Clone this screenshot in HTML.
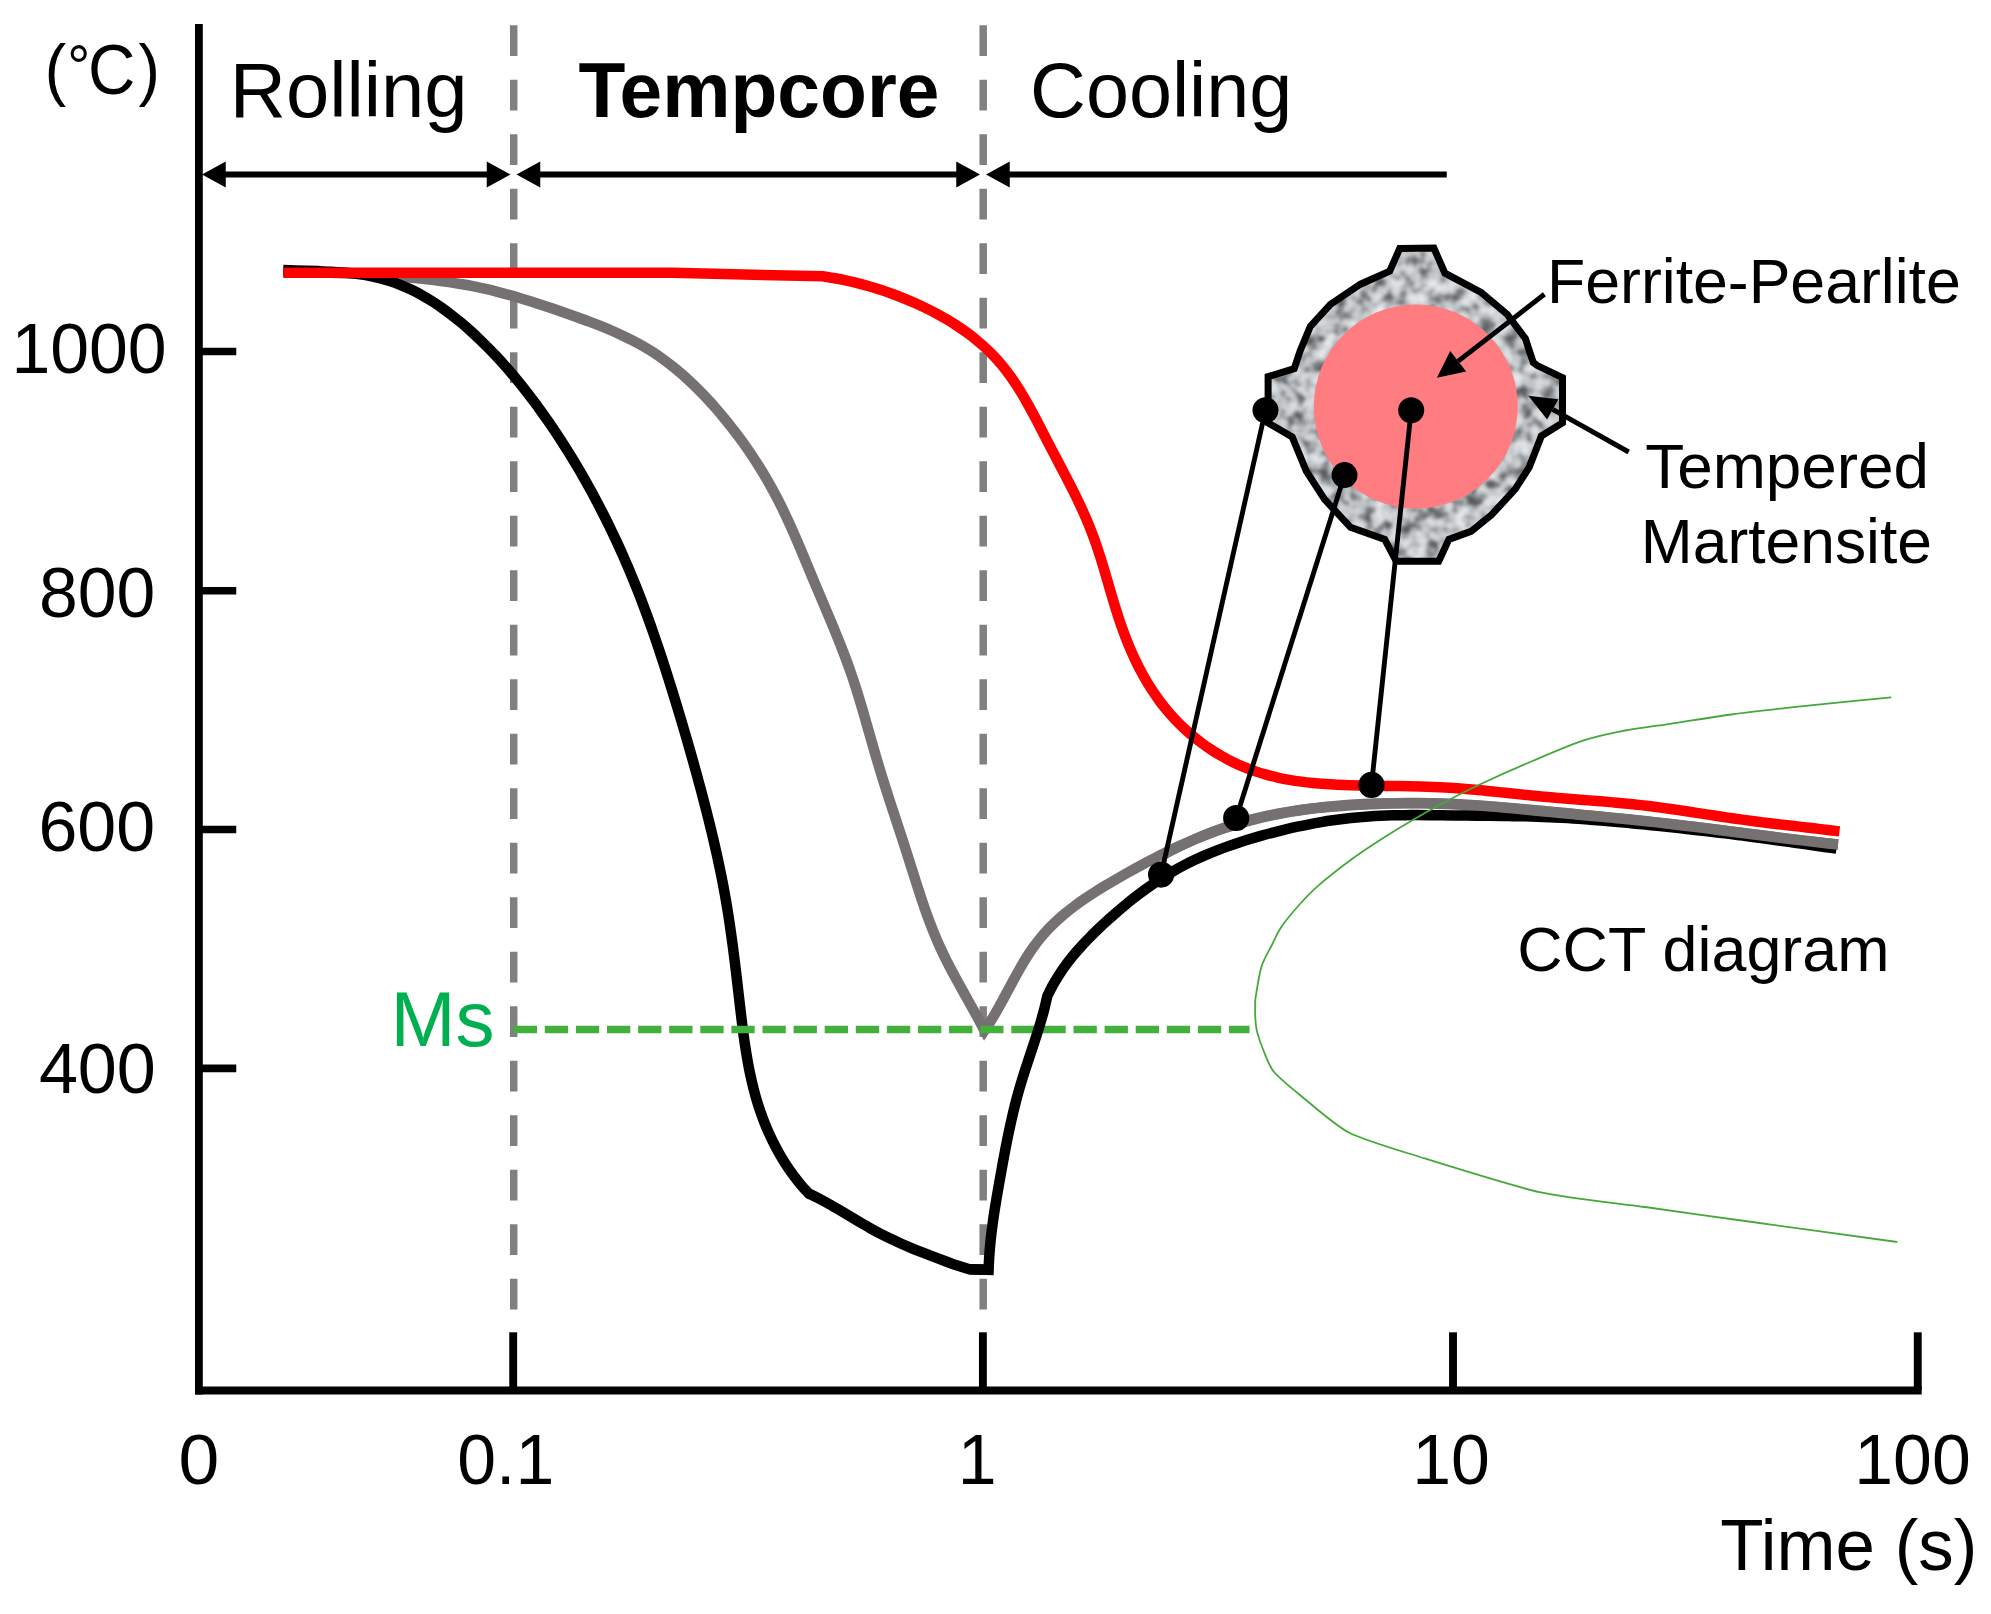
<!DOCTYPE html>
<html><head><meta charset="utf-8"><title>Tempcore cooling diagram</title>
<style>
html,body{margin:0;padding:0;background:#fff;}
body{width:1991px;height:1614px;overflow:hidden;}
svg{display:block;}
text{font-family:"Liberation Sans",sans-serif;fill:#000;}
.c{fill:none;stroke-linejoin:round;stroke-linecap:butt;}
</style></head><body>
<svg width="1991" height="1614" viewBox="0 0 1991 1614">
<defs>
<filter id="noise" x="0" y="0" width="100%" height="100%" color-interpolation-filters="sRGB">
<feTurbulence type="fractalNoise" baseFrequency="0.075" numOctaves="2" seed="11" result="n"/>
<feColorMatrix in="n" type="matrix" values="1 0 0 0 0  1 0 0 0 0  1 0 0 0 0  0 0 0 0 1" result="m"/>
<feComponentTransfer in="m" result="g"><feFuncR type="table" tableValues="0.240 0.320 0.410 0.570 0.750 0.830 0.890 0.930 0.960"/><feFuncG type="table" tableValues="0.252 0.332 0.422 0.582 0.762 0.842 0.902 0.942 0.972"/><feFuncB type="table" tableValues="0.260 0.340 0.430 0.590 0.770 0.850 0.910 0.950 0.980"/></feComponentTransfer>
<feGaussianBlur in="g" stdDeviation="1.0" result="gb"/>
<feComposite in="gb" in2="SourceGraphic" operator="in"/>
</filter>
</defs>
<rect width="1991" height="1614" fill="#fff"/>
<g id="curves">
<line x1="513.7" y1="25.2" x2="513.7" y2="1309.6" stroke="#808080" stroke-width="7.5" stroke-dasharray="30.9 23.6"/>
<line x1="983.2" y1="25.2" x2="983.2" y2="1309.6" stroke="#808080" stroke-width="7.5" stroke-dasharray="30.9 23.6"/>
<path class="c" id="grey" d="M283.25,272.00 C285.25,271.99 291.25,271.94 295.25,271.95 C299.24,271.97 303.24,272.01 307.23,272.07 C311.22,272.13 315.21,272.22 319.20,272.33 C323.19,272.44 327.18,272.58 331.17,272.73 C335.16,272.88 339.14,273.05 343.13,273.24 C347.11,273.42 351.10,273.63 355.08,273.85 C359.07,274.06 363.05,274.30 367.04,274.54 C371.03,274.78 375.01,275.04 379.00,275.30 C382.98,275.57 386.97,275.84 390.96,276.13 C394.94,276.42 398.93,276.72 402.91,277.05 C406.89,277.38 410.87,277.72 414.85,278.09 C418.83,278.47 422.80,278.86 426.77,279.29 C430.73,279.73 434.70,280.19 438.65,280.69 C442.61,281.20 446.56,281.74 450.50,282.33 C454.44,282.91 458.37,283.54 462.29,284.22 C466.22,284.91 470.13,285.64 474.03,286.43 C477.93,287.21 481.82,288.06 485.70,288.95 C489.59,289.85 493.46,290.80 497.32,291.79 C501.18,292.78 505.03,293.81 508.87,294.89 C512.72,295.96 516.55,297.08 520.38,298.22 C524.21,299.37 528.02,300.55 531.84,301.76 C535.65,302.97 539.46,304.21 543.26,305.46 C547.06,306.72 550.86,308.00 554.65,309.30 C558.44,310.59 562.22,311.91 566.01,313.23 C569.79,314.55 573.57,315.88 577.34,317.24 C581.10,318.60 584.87,319.96 588.61,321.37 C592.35,322.78 596.08,324.21 599.78,325.69 C603.48,327.17 607.17,328.68 610.82,330.26 C614.47,331.83 618.10,333.44 621.69,335.13 C625.28,336.82 628.84,338.55 632.36,340.37 C635.87,342.19 639.35,344.07 642.78,346.04 C646.20,348.02 649.59,350.06 652.92,352.21 C656.24,354.35 659.52,356.59 662.75,358.90 C665.97,361.22 669.14,363.63 672.26,366.10 C675.39,368.58 678.46,371.14 681.48,373.76 C684.50,376.37 687.48,379.07 690.40,381.81 C693.33,384.56 696.20,387.37 699.03,390.22 C701.86,393.08 704.64,395.99 707.38,398.94 C710.12,401.89 712.81,404.88 715.46,407.91 C718.10,410.93 720.70,414.00 723.26,417.08 C725.82,420.17 728.34,423.28 730.81,426.42 C733.28,429.56 735.71,432.72 738.09,435.92 C740.47,439.11 742.81,442.33 745.11,445.57 C747.40,448.82 749.65,452.09 751.86,455.39 C754.06,458.68 756.23,462.01 758.34,465.36 C760.46,468.72 762.53,472.10 764.56,475.51 C766.58,478.92 768.56,482.35 770.50,485.82 C772.43,489.28 774.32,492.77 776.17,496.29 C778.01,499.81 779.81,503.36 781.57,506.94 C783.33,510.51 785.05,514.11 786.74,517.72 C788.43,521.34 790.08,524.98 791.71,528.63 C793.34,532.28 794.94,535.94 796.53,539.62 C798.12,543.29 799.68,546.98 801.24,550.68 C802.80,554.37 804.34,558.07 805.88,561.77 C807.42,565.47 808.95,569.17 810.48,572.87 C812.02,576.57 813.56,580.27 815.10,583.96 C816.65,587.64 818.21,591.33 819.76,595.00 C821.32,598.68 822.88,602.35 824.44,606.03 C825.99,609.70 827.55,613.37 829.09,617.04 C830.63,620.71 832.17,624.39 833.69,628.07 C835.21,631.75 836.72,635.43 838.20,639.12 C839.68,642.81 841.15,646.51 842.58,650.22 C844.01,653.93 845.43,657.65 846.80,661.38 C848.17,665.12 849.52,668.86 850.82,672.63 C852.13,676.39 853.39,680.17 854.62,683.97 C855.86,687.76 857.05,691.57 858.23,695.39 C859.41,699.21 860.56,703.04 861.70,706.87 C862.84,710.71 863.95,714.55 865.06,718.40 C866.17,722.24 867.26,726.09 868.36,729.94 C869.46,733.79 870.55,737.65 871.65,741.50 C872.75,745.34 873.85,749.19 874.96,753.03 C876.08,756.87 877.21,760.71 878.35,764.53 C879.50,768.36 880.66,772.18 881.84,775.99 C883.02,779.80 884.22,783.60 885.43,787.40 C886.63,791.19 887.86,794.98 889.08,798.77 C890.31,802.56 891.55,806.35 892.79,810.14 C894.02,813.92 895.27,817.70 896.52,821.49 C897.76,825.28 899.01,829.06 900.25,832.85 C901.49,836.64 902.73,840.43 903.96,844.23 C905.19,848.02 906.42,851.82 907.64,855.63 C908.85,859.44 910.05,863.26 911.26,867.07 C912.47,870.89 913.66,874.71 914.88,878.53 C916.09,882.34 917.30,886.16 918.54,889.97 C919.78,893.77 921.03,897.58 922.31,901.37 C923.59,905.16 924.89,908.94 926.24,912.70 C927.58,916.46 928.95,920.22 930.38,923.94 C931.81,927.67 933.27,931.38 934.79,935.06 C936.32,938.74 937.89,942.40 939.53,946.03 C941.17,949.66 942.88,953.26 944.63,956.83 C946.38,960.41 948.20,963.96 950.04,967.50 C951.88,971.04 953.77,974.55 955.67,978.06 C957.57,981.57 959.51,985.06 961.45,988.55 C963.39,992.04 965.35,995.52 967.30,999.00 C969.25,1002.48 971.21,1005.96 973.14,1009.45 C975.08,1012.94 977.01,1016.43 978.90,1019.94 C980.80,1023.45 983.57,1028.74 984.50,1030.50 L984.50,1030.50 C985.56,1028.88 988.81,1024.11 990.88,1020.80 C992.96,1017.49 994.95,1014.07 996.92,1010.63 C998.90,1007.18 1000.82,1003.65 1002.75,1000.12 C1004.67,996.58 1006.56,992.99 1008.48,989.42 C1010.40,985.85 1012.30,982.24 1014.25,978.68 C1016.20,975.12 1018.15,971.55 1020.18,968.04 C1022.20,964.54 1024.26,961.05 1026.40,957.66 C1028.54,954.26 1030.73,950.91 1033.04,947.67 C1035.34,944.42 1037.72,941.26 1040.22,938.21 C1042.71,935.17 1045.32,932.23 1048.01,929.38 C1050.70,926.54 1053.50,923.79 1056.37,921.13 C1059.23,918.46 1062.19,915.89 1065.22,913.39 C1068.24,910.88 1071.34,908.46 1074.49,906.10 C1077.64,903.73 1080.87,901.44 1084.13,899.20 C1087.39,896.95 1090.71,894.77 1094.06,892.62 C1097.41,890.47 1100.81,888.38 1104.22,886.30 C1107.64,884.23 1111.09,882.20 1114.55,880.19 C1118.00,878.17 1121.48,876.18 1124.96,874.21 C1128.45,872.24 1131.94,870.28 1135.44,868.35 C1138.95,866.42 1142.46,864.50 1145.99,862.62 C1149.52,860.75 1153.06,858.89 1156.62,857.07 C1160.17,855.25 1163.74,853.46 1167.32,851.71 C1170.90,849.96 1174.50,848.25 1178.11,846.58 C1181.72,844.91 1185.35,843.28 1188.99,841.69 C1192.63,840.11 1196.29,838.57 1199.97,837.09 C1203.65,835.60 1207.35,834.16 1211.06,832.78 C1214.78,831.41 1218.51,830.08 1222.26,828.81 C1226.02,827.55 1229.79,826.33 1233.57,825.18 C1237.36,824.02 1241.16,822.92 1244.98,821.86 C1248.80,820.81 1252.64,819.81 1256.48,818.86 C1260.33,817.91 1264.19,817.01 1268.07,816.16 C1271.94,815.31 1275.83,814.51 1279.73,813.75 C1283.62,813.00 1287.53,812.29 1291.45,811.63 C1295.36,810.96 1299.29,810.34 1303.22,809.77 C1307.16,809.19 1311.10,808.66 1315.05,808.16 C1318.99,807.67 1322.95,807.22 1326.91,806.81 C1330.87,806.40 1334.83,806.03 1338.80,805.69 C1342.77,805.35 1346.74,805.06 1350.72,804.79 C1354.69,804.53 1358.67,804.30 1362.65,804.10 C1366.64,803.90 1370.62,803.74 1374.61,803.61 C1378.59,803.48 1382.58,803.37 1386.56,803.30 C1390.55,803.22 1394.54,803.18 1398.53,803.16 C1402.51,803.14 1406.50,803.15 1410.48,803.18 C1414.47,803.21 1418.45,803.27 1422.43,803.34 C1426.41,803.42 1430.39,803.52 1434.36,803.64 C1438.34,803.76 1442.31,803.90 1446.28,804.06 C1450.25,804.22 1454.22,804.40 1458.19,804.59 C1462.16,804.79 1466.12,805.01 1470.09,805.23 C1474.06,805.46 1478.02,805.71 1481.98,805.97 C1485.95,806.23 1489.91,806.50 1493.87,806.79 C1497.83,807.08 1501.79,807.38 1505.76,807.69 C1509.72,808.00 1513.68,808.33 1517.64,808.66 C1521.60,808.99 1525.56,809.33 1529.52,809.68 C1533.49,810.04 1537.45,810.40 1541.41,810.76 C1545.37,811.13 1549.33,811.50 1553.30,811.88 C1557.26,812.26 1561.22,812.65 1565.18,813.05 C1569.15,813.44 1573.11,813.84 1577.07,814.24 C1581.03,814.64 1585.00,815.05 1588.96,815.46 C1592.92,815.87 1596.88,816.29 1600.84,816.70 C1604.80,817.12 1608.76,817.54 1612.72,817.96 C1616.68,818.38 1620.64,818.81 1624.60,819.23 C1628.56,819.65 1632.52,820.08 1636.47,820.50 C1640.43,820.93 1644.39,821.35 1648.34,821.78 C1652.30,822.20 1656.25,822.63 1660.21,823.06 C1664.16,823.49 1668.12,823.93 1672.07,824.37 C1676.02,824.80 1679.97,825.24 1683.93,825.69 C1687.88,826.14 1691.83,826.59 1695.78,827.05 C1699.73,827.50 1703.68,827.96 1707.63,828.43 C1711.58,828.90 1715.53,829.38 1719.48,829.86 C1723.43,830.35 1727.38,830.84 1731.32,831.34 C1735.27,831.84 1739.22,832.35 1743.17,832.87 C1747.12,833.38 1751.06,833.91 1755.01,834.43 C1758.96,834.96 1762.91,835.49 1766.85,836.01 C1770.80,836.54 1774.75,837.06 1778.70,837.58 C1782.65,838.10 1786.60,838.62 1790.55,839.12 C1794.50,839.62 1798.45,840.12 1802.40,840.60 C1806.35,841.08 1810.30,841.56 1814.26,842.01 C1818.21,842.46 1822.17,842.90 1826.12,843.32 C1830.08,843.73 1836.02,844.30 1838.00,844.50" stroke="#767171" stroke-width="10.5" style="stroke-linejoin:miter;stroke-miterlimit:10"/>
<path class="c" id="black_dn" d="M283.25,270.10 C285.22,270.16 291.10,270.36 295.06,270.48 C299.02,270.59 303.01,270.67 307.00,270.78 C311.00,270.89 315.01,270.98 319.02,271.12 C323.03,271.27 327.05,271.42 331.06,271.64 C335.07,271.86 339.08,272.11 343.07,272.44 C347.06,272.78 351.04,273.17 354.99,273.66 C358.94,274.16 362.88,274.72 366.78,275.41 C370.67,276.11 374.55,276.89 378.37,277.82 C382.19,278.75 385.98,279.81 389.72,281.01 C393.45,282.21 397.14,283.56 400.78,285.03 C404.43,286.49 408.02,288.10 411.57,289.82 C415.12,291.53 418.62,293.38 422.07,295.31 C425.52,297.25 428.93,299.30 432.29,301.44 C435.65,303.57 438.96,305.81 442.22,308.12 C445.49,310.42 448.71,312.82 451.88,315.28 C455.05,317.73 458.18,320.27 461.25,322.85 C464.33,325.43 467.36,328.07 470.35,330.75 C473.33,333.43 476.27,336.16 479.17,338.93 C482.06,341.69 484.91,344.49 487.71,347.32 C490.52,350.16 493.28,353.03 496.00,355.93 C498.72,358.83 501.40,361.77 504.05,364.74 C506.69,367.70 509.29,370.70 511.86,373.73 C514.43,376.76 516.96,379.82 519.46,382.90 C521.97,385.98 524.43,389.09 526.87,392.23 C529.30,395.36 531.71,398.53 534.08,401.71 C536.46,404.89 538.80,408.10 541.13,411.32 C543.45,414.55 545.74,417.80 548.01,421.07 C550.28,424.33 552.52,427.62 554.74,430.93 C556.95,434.23 559.14,437.56 561.31,440.90 C563.48,444.24 565.61,447.61 567.73,450.98 C569.84,454.36 571.93,457.76 573.99,461.17 C576.05,464.58 578.09,468.01 580.10,471.45 C582.11,474.90 584.10,478.36 586.06,481.83 C588.02,485.31 589.95,488.80 591.86,492.30 C593.77,495.80 595.65,499.32 597.51,502.85 C599.36,506.38 601.19,509.92 603.00,513.48 C604.81,517.03 606.59,520.60 608.34,524.18 C610.10,527.76 611.83,531.35 613.54,534.96 C615.24,538.56 616.92,542.18 618.58,545.80 C620.24,549.43 621.87,553.06 623.48,556.71 C625.09,560.36 626.68,564.01 628.24,567.68 C629.80,571.35 631.34,575.03 632.85,578.71 C634.37,582.40 635.86,586.09 637.33,589.80 C638.80,593.50 640.24,597.21 641.66,600.93 C643.09,604.65 644.49,608.38 645.87,612.12 C647.25,615.85 648.60,619.60 649.95,623.35 C651.29,627.10 652.61,630.85 653.91,634.62 C655.22,638.38 656.51,642.15 657.78,645.92 C659.05,649.69 660.31,653.47 661.55,657.26 C662.80,661.04 664.03,664.83 665.25,668.62 C666.47,672.42 667.67,676.21 668.87,680.01 C670.07,683.81 671.25,687.62 672.43,691.42 C673.61,695.23 674.78,699.04 675.95,702.85 C677.11,706.66 678.27,710.48 679.41,714.29 C680.56,718.11 681.70,721.93 682.83,725.75 C683.96,729.57 685.08,733.39 686.20,737.22 C687.31,741.05 688.42,744.88 689.51,748.71 C690.61,752.54 691.69,756.38 692.77,760.21 C693.85,764.05 694.92,767.89 695.97,771.73 C697.03,775.58 698.08,779.42 699.12,783.27 C700.16,787.12 701.19,790.97 702.20,794.83 C703.22,798.68 704.23,802.54 705.22,806.40 C706.22,810.26 707.20,814.13 708.17,817.99 C709.14,821.86 710.10,825.73 711.03,829.61 C711.97,833.48 712.90,837.36 713.80,841.24 C714.71,845.12 715.59,849.00 716.46,852.89 C717.33,856.78 718.18,860.67 719.00,864.57 C719.83,868.47 720.64,872.36 721.42,876.27 C722.20,880.17 722.96,884.08 723.69,887.99 C724.42,891.90 725.13,895.82 725.81,899.74 C726.49,903.66 727.14,907.59 727.77,911.52 C728.40,915.44 729.00,919.38 729.59,923.31 C730.18,927.25 730.74,931.19 731.29,935.13 C731.85,939.08 732.38,943.02 732.90,946.97 C733.42,950.92 733.92,954.87 734.41,958.83 C734.91,962.78 735.39,966.74 735.87,970.70 C736.35,974.66 736.81,978.63 737.28,982.59 C737.74,986.56 738.20,990.52 738.66,994.49 C739.12,998.46 739.58,1002.43 740.04,1006.40 C740.50,1010.37 740.96,1014.35 741.45,1018.32 C741.93,1022.29 742.42,1026.25 742.94,1030.22 C743.46,1034.18 744.00,1038.14 744.57,1042.09 C745.15,1046.04 745.75,1049.98 746.40,1053.91 C747.05,1057.84 747.74,1061.76 748.48,1065.67 C749.23,1069.58 750.02,1073.48 750.87,1077.35 C751.73,1081.23 752.64,1085.10 753.63,1088.94 C754.61,1092.79 755.66,1096.62 756.80,1100.42 C757.94,1104.23 759.15,1108.01 760.45,1111.77 C761.75,1115.53 763.13,1119.26 764.59,1122.96 C766.06,1126.66 767.61,1130.33 769.25,1133.95 C770.90,1137.57 772.62,1141.16 774.44,1144.70 C776.26,1148.24 778.16,1151.74 780.16,1155.18 C782.16,1158.61 784.25,1162.01 786.44,1165.33 C788.63,1168.66 790.90,1171.93 793.28,1175.13 C795.66,1178.33 798.13,1181.47 800.70,1184.53 C803.27,1187.59 807.37,1192.01 808.70,1193.50 L808.70,1193.50 C810.44,1194.36 815.72,1196.88 819.17,1198.67 C822.62,1200.46 826.02,1202.33 829.41,1204.23 C832.80,1206.13 836.15,1208.10 839.50,1210.07 C842.84,1212.03 846.17,1214.04 849.50,1216.03 C852.83,1218.02 856.15,1220.03 859.50,1222.00 C862.84,1223.96 866.18,1225.93 869.56,1227.83 C872.94,1229.73 876.34,1231.60 879.77,1233.40 C883.21,1235.19 886.68,1236.92 890.18,1238.59 C893.68,1240.27 897.22,1241.88 900.77,1243.45 C904.32,1245.03 907.90,1246.54 911.49,1248.03 C915.08,1249.53 918.70,1250.97 922.32,1252.40 C925.94,1253.83 929.57,1255.22 933.20,1256.61 C936.83,1257.99 940.48,1259.35 944.11,1260.72 C947.74,1262.09 953.19,1264.12 955.00,1264.80 L969.3,1269.2 L988.6,1269.8" stroke="#000" stroke-width="10.5"/>
<line x1="513.7" y1="1029.5" x2="1249.5" y2="1029.5" stroke="#43b03b" stroke-width="7.7" stroke-dasharray="23.3 7.8"/>
<path class="c" id="black_up" d="M969.3,1269.2 L988.6,1269.8 L988.60,1269.80 C988.69,1267.76 988.91,1261.64 989.17,1257.57 C989.42,1253.50 989.75,1249.45 990.12,1245.40 C990.50,1241.35 990.94,1237.31 991.41,1233.27 C991.89,1229.24 992.42,1225.21 992.98,1221.19 C993.54,1217.16 994.15,1213.15 994.78,1209.13 C995.41,1205.12 996.07,1201.11 996.75,1197.10 C997.42,1193.09 998.12,1189.08 998.83,1185.07 C999.53,1181.07 1000.25,1177.06 1000.97,1173.05 C1001.69,1169.05 1002.41,1165.04 1003.16,1161.04 C1003.90,1157.03 1004.64,1153.03 1005.41,1149.03 C1006.19,1145.03 1006.97,1141.04 1007.78,1137.05 C1008.60,1133.06 1009.43,1129.08 1010.30,1125.11 C1011.17,1121.13 1012.07,1117.17 1013.01,1113.21 C1013.95,1109.26 1014.92,1105.31 1015.94,1101.38 C1016.96,1097.44 1018.02,1093.52 1019.13,1089.61 C1020.24,1085.71 1021.41,1081.81 1022.61,1077.93 C1023.81,1074.05 1025.07,1070.18 1026.33,1066.32 C1027.59,1062.45 1028.89,1058.60 1030.18,1054.74 C1031.46,1050.87 1032.76,1047.02 1034.03,1043.16 C1035.30,1039.29 1036.57,1035.43 1037.78,1031.54 C1039.00,1027.66 1040.19,1023.78 1041.32,1019.87 C1042.44,1015.96 1043.53,1012.04 1044.53,1008.10 C1045.53,1004.15 1046.84,998.18 1047.30,996.20 L1047.30,996.20 C1048.21,994.39 1050.80,988.90 1052.74,985.37 C1054.67,981.84 1056.75,978.40 1058.91,975.04 C1061.08,971.67 1063.37,968.38 1065.74,965.16 C1068.10,961.94 1070.58,958.79 1073.12,955.70 C1075.66,952.61 1078.30,949.59 1080.99,946.62 C1083.68,943.65 1086.45,940.73 1089.25,937.86 C1092.06,934.99 1094.93,932.18 1097.82,929.40 C1100.72,926.62 1103.66,923.88 1106.62,921.18 C1109.58,918.48 1112.57,915.81 1115.58,913.18 C1118.60,910.55 1121.64,907.96 1124.71,905.42 C1127.78,902.88 1130.88,900.38 1134.02,897.93 C1137.15,895.48 1140.32,893.08 1143.52,890.73 C1146.73,888.38 1149.96,886.09 1153.24,883.85 C1156.51,881.62 1159.83,879.44 1163.18,877.32 C1166.53,875.21 1169.92,873.15 1173.36,871.17 C1176.80,869.18 1180.27,867.27 1183.79,865.42 C1187.32,863.57 1190.88,861.80 1194.48,860.08 C1198.09,858.37 1201.73,856.73 1205.40,855.14 C1209.08,853.55 1212.79,852.03 1216.52,850.57 C1220.26,849.10 1224.03,847.69 1227.81,846.33 C1231.60,844.97 1235.41,843.67 1239.24,842.41 C1243.07,841.16 1246.92,839.95 1250.78,838.79 C1254.64,837.62 1258.51,836.50 1262.40,835.42 C1266.28,834.34 1270.17,833.30 1274.06,832.30 C1277.95,831.29 1281.85,830.32 1285.76,829.40 C1289.66,828.47 1293.57,827.58 1297.49,826.74 C1301.40,825.89 1305.32,825.09 1309.25,824.33 C1313.18,823.57 1317.11,822.85 1321.05,822.18 C1324.99,821.51 1328.93,820.88 1332.88,820.31 C1336.84,819.73 1340.80,819.20 1344.76,818.72 C1348.73,818.24 1352.70,817.81 1356.68,817.44 C1360.66,817.06 1364.65,816.74 1368.64,816.46 C1372.64,816.19 1376.64,815.97 1380.64,815.79 C1384.65,815.60 1388.66,815.47 1392.68,815.37 C1396.70,815.26 1400.72,815.20 1404.74,815.15 C1408.77,815.11 1412.79,815.10 1416.82,815.10 C1420.85,815.10 1424.88,815.13 1428.91,815.16 C1432.94,815.20 1436.97,815.25 1441.00,815.30 C1445.02,815.35 1449.05,815.41 1453.08,815.46 C1457.10,815.51 1461.12,815.56 1465.14,815.60 C1469.16,815.65 1473.18,815.68 1477.19,815.72 C1481.21,815.76 1485.22,815.79 1489.23,815.83 C1493.24,815.87 1497.25,815.91 1501.25,815.96 C1505.26,816.01 1509.26,816.06 1513.27,816.13 C1517.27,816.20 1521.27,816.28 1525.28,816.37 C1529.28,816.46 1533.28,816.57 1537.29,816.70 C1541.29,816.83 1545.29,816.97 1549.29,817.14 C1553.30,817.31 1557.30,817.50 1561.31,817.71 C1565.31,817.93 1569.32,818.17 1573.32,818.42 C1577.33,818.68 1581.33,818.96 1585.34,819.25 C1589.35,819.54 1593.35,819.86 1597.36,820.18 C1601.36,820.51 1605.37,820.85 1609.37,821.20 C1613.38,821.55 1617.38,821.92 1621.38,822.29 C1625.38,822.67 1629.39,823.05 1633.39,823.44 C1637.39,823.83 1641.38,824.23 1645.38,824.63 C1649.38,825.03 1653.37,825.44 1657.37,825.85 C1661.36,826.26 1665.35,826.67 1669.34,827.09 C1673.33,827.51 1677.32,827.94 1681.31,828.37 C1685.30,828.80 1689.28,829.24 1693.27,829.68 C1697.25,830.12 1701.24,830.57 1705.22,831.03 C1709.20,831.49 1713.19,831.96 1717.17,832.43 C1721.15,832.91 1725.13,833.39 1729.11,833.88 C1733.10,834.37 1737.08,834.87 1741.06,835.38 C1745.04,835.89 1749.02,836.42 1753.00,836.95 C1756.98,837.47 1760.96,838.01 1764.94,838.56 C1768.92,839.10 1772.90,839.65 1776.88,840.21 C1780.85,840.76 1784.83,841.32 1788.81,841.88 C1792.79,842.44 1796.76,843.01 1800.74,843.57 C1804.72,844.13 1808.69,844.70 1812.67,845.26 C1816.64,845.82 1820.61,846.38 1824.59,846.94 C1828.56,847.50 1834.51,848.32 1836.50,848.60" stroke="#000" stroke-width="10.5" style="stroke-linejoin:miter;stroke-miterlimit:10"/>
<path class="c" id="grey_top" d="M1162.50,855.00 C1164.28,854.08 1169.59,851.29 1173.18,849.50 C1176.76,847.71 1180.38,845.95 1184.01,844.25 C1187.65,842.55 1191.31,840.89 1194.99,839.28 C1198.67,837.67 1202.38,836.11 1206.11,834.61 C1209.83,833.11 1213.58,831.65 1217.35,830.26 C1221.12,828.87 1224.90,827.54 1228.71,826.27 C1232.51,825.00 1236.34,823.78 1240.18,822.64 C1244.02,821.50 1247.88,820.42 1251.75,819.41 C1255.62,818.40 1259.51,817.47 1263.41,816.59 C1267.31,815.72 1271.22,814.92 1275.15,814.16 C1279.07,813.41 1283.01,812.73 1286.96,812.09 C1290.91,811.44 1294.86,810.86 1298.83,810.32 C1302.80,809.78 1306.77,809.29 1310.75,808.83 C1314.73,808.37 1318.72,807.96 1322.72,807.58 C1326.71,807.19 1330.71,806.85 1334.71,806.52 C1338.72,806.20 1342.72,805.90 1346.73,805.63 C1350.74,805.35 1354.75,805.10 1358.76,804.86 C1362.77,804.62 1366.78,804.41 1370.80,804.21 C1374.81,804.02 1378.82,803.84 1382.84,803.69 C1386.85,803.55 1390.87,803.42 1394.88,803.32 C1398.90,803.22 1402.91,803.14 1406.92,803.10 C1410.94,803.05 1414.95,803.03 1418.96,803.04 C1422.98,803.05 1426.99,803.08 1431.00,803.15 C1435.01,803.22 1439.02,803.32 1443.02,803.45 C1447.03,803.59 1451.03,803.75 1455.04,803.95 C1459.04,804.14 1463.04,804.38 1467.04,804.63 C1471.04,804.88 1475.04,805.17 1479.04,805.46 C1483.03,805.76 1487.03,806.09 1491.02,806.43 C1495.02,806.76 1499.01,807.12 1503.01,807.48 C1507.00,807.85 1510.99,808.23 1514.99,808.61 C1518.98,808.99 1522.97,809.38 1526.97,809.77 C1530.96,810.16 1534.95,810.56 1538.95,810.94 C1542.94,811.33 1546.93,811.72 1550.93,812.09 C1554.92,812.47 1558.92,812.84 1562.92,813.21 C1566.91,813.59 1570.91,813.95 1574.90,814.32 C1578.90,814.68 1582.90,815.05 1586.89,815.41 C1590.89,815.78 1594.88,816.15 1598.88,816.52 C1602.88,816.89 1606.87,817.26 1610.86,817.64 C1614.86,818.02 1618.85,818.41 1622.85,818.80 C1626.84,819.19 1630.83,819.59 1634.82,820.01 C1638.81,820.42 1642.80,820.84 1646.79,821.27 C1650.78,821.71 1654.77,822.15 1658.75,822.61 C1662.74,823.06 1666.72,823.53 1670.71,824.00 C1674.69,824.47 1678.68,824.95 1682.66,825.43 C1686.64,825.92 1690.62,826.41 1694.60,826.91 C1698.59,827.41 1702.57,827.91 1706.55,828.41 C1710.53,828.92 1714.51,829.43 1718.49,829.93 C1722.47,830.44 1726.45,830.96 1730.43,831.46 C1734.41,831.97 1738.39,832.49 1742.37,832.99 C1746.35,833.50 1750.33,834.01 1754.32,834.51 C1758.30,835.02 1762.28,835.52 1766.26,836.02 C1770.24,836.51 1774.23,837.01 1778.21,837.50 C1782.19,837.99 1786.18,838.48 1790.16,838.96 C1794.15,839.45 1798.13,839.92 1802.12,840.40 C1806.10,840.87 1810.09,841.34 1814.07,841.80 C1818.06,842.26 1822.05,842.72 1826.03,843.17 C1830.02,843.62 1836.01,844.28 1838.00,844.50" stroke="#767171" stroke-width="10.5"/>
<path class="c" id="red" d="M283.25,272.85 L673,272.85 L823.00,276.30 C824.98,276.63 830.95,277.54 834.89,278.26 C838.84,278.97 842.76,279.76 846.67,280.61 C850.58,281.46 854.47,282.38 858.34,283.36 C862.21,284.34 866.06,285.39 869.89,286.50 C873.72,287.61 877.53,288.79 881.32,290.04 C885.11,291.28 888.88,292.60 892.63,293.97 C896.37,295.35 900.10,296.79 903.81,298.30 C907.52,299.81 911.21,301.38 914.88,303.02 C918.54,304.66 922.19,306.36 925.81,308.13 C929.42,309.91 933.02,311.74 936.57,313.65 C940.12,315.57 943.63,317.55 947.09,319.60 C950.55,321.66 953.97,323.79 957.32,325.99 C960.68,328.20 963.98,330.48 967.20,332.85 C970.42,335.21 973.59,337.65 976.66,340.18 C979.73,342.71 982.74,345.32 985.64,348.02 C988.55,350.72 991.37,353.50 994.09,356.37 C996.81,359.25 999.42,362.21 1001.94,365.26 C1004.46,368.31 1006.87,371.45 1009.21,374.65 C1011.56,377.85 1013.80,381.14 1015.99,384.47 C1018.18,387.80 1020.29,391.20 1022.36,394.64 C1024.42,398.07 1026.42,401.57 1028.39,405.08 C1030.37,408.60 1032.28,412.15 1034.19,415.72 C1036.09,419.29 1037.96,422.89 1039.82,426.48 C1041.69,430.08 1043.53,433.69 1045.38,437.29 C1047.23,440.89 1049.08,444.49 1050.95,448.07 C1052.81,451.65 1054.69,455.21 1056.55,458.77 C1058.42,462.33 1060.30,465.88 1062.16,469.44 C1064.01,472.99 1065.87,476.54 1067.70,480.09 C1069.53,483.65 1071.34,487.20 1073.12,490.77 C1074.90,494.34 1076.66,497.91 1078.37,501.50 C1080.08,505.09 1081.77,508.69 1083.39,512.32 C1085.02,515.94 1086.61,519.59 1088.13,523.26 C1089.65,526.93 1091.12,530.62 1092.52,534.35 C1093.93,538.08 1095.26,541.83 1096.55,545.61 C1097.85,549.39 1099.08,553.20 1100.29,557.02 C1101.50,560.83 1102.66,564.68 1103.81,568.52 C1104.97,572.37 1106.09,576.23 1107.22,580.10 C1108.36,583.96 1109.47,587.83 1110.61,591.69 C1111.74,595.56 1112.88,599.43 1114.05,603.28 C1115.23,607.13 1116.41,610.98 1117.65,614.81 C1118.89,618.65 1120.16,622.47 1121.49,626.26 C1122.82,630.06 1124.21,633.84 1125.66,637.58 C1127.11,641.33 1128.61,645.05 1130.19,648.74 C1131.77,652.42 1133.41,656.08 1135.12,659.69 C1136.84,663.30 1138.62,666.88 1140.49,670.41 C1142.35,673.93 1144.29,677.42 1146.31,680.85 C1148.33,684.28 1150.43,687.66 1152.62,690.98 C1154.81,694.29 1157.08,697.56 1159.45,700.75 C1161.81,703.95 1164.27,707.09 1166.82,710.15 C1169.38,713.21 1172.03,716.20 1174.77,719.12 C1177.51,722.03 1180.36,724.87 1183.28,727.63 C1186.20,730.38 1189.21,733.06 1192.30,735.64 C1195.39,738.22 1198.56,740.72 1201.79,743.11 C1205.03,745.51 1208.34,747.82 1211.71,750.02 C1215.08,752.21 1218.52,754.32 1222.01,756.31 C1225.50,758.30 1229.05,760.18 1232.65,761.95 C1236.24,763.72 1239.89,765.37 1243.57,766.91 C1247.26,768.44 1250.99,769.85 1254.75,771.14 C1258.51,772.43 1262.31,773.59 1266.13,774.66 C1269.95,775.72 1273.81,776.67 1277.69,777.53 C1281.57,778.39 1285.48,779.14 1289.40,779.82 C1293.33,780.50 1297.28,781.09 1301.24,781.61 C1305.20,782.14 1309.18,782.58 1313.17,782.97 C1317.16,783.37 1321.16,783.69 1325.17,783.97 C1329.17,784.26 1333.19,784.48 1337.20,784.68 C1341.22,784.88 1345.23,785.04 1349.25,785.17 C1353.26,785.31 1357.27,785.42 1361.28,785.52 C1365.29,785.61 1369.30,785.68 1373.30,785.75 C1377.31,785.82 1381.31,785.87 1385.32,785.93 C1389.32,785.99 1393.32,786.04 1397.32,786.10 C1401.32,786.16 1405.32,786.21 1409.31,786.29 C1413.31,786.37 1417.31,786.45 1421.30,786.56 C1425.30,786.68 1429.29,786.80 1433.29,786.96 C1437.28,787.12 1441.27,787.30 1445.27,787.52 C1449.26,787.74 1453.25,788.00 1457.25,788.28 C1461.24,788.57 1465.23,788.89 1469.22,789.22 C1473.22,789.56 1477.21,789.93 1481.20,790.30 C1485.19,790.68 1489.19,791.08 1493.18,791.48 C1497.17,791.89 1501.16,792.31 1505.15,792.72 C1509.15,793.14 1513.14,793.57 1517.13,793.99 C1521.13,794.40 1525.12,794.82 1529.11,795.23 C1533.11,795.63 1537.10,796.03 1541.09,796.41 C1545.09,796.79 1549.08,797.15 1553.08,797.50 C1557.07,797.85 1561.07,798.18 1565.06,798.50 C1569.06,798.83 1573.05,799.14 1577.05,799.46 C1581.04,799.77 1585.04,800.08 1589.03,800.39 C1593.02,800.71 1597.01,801.02 1601.00,801.35 C1604.99,801.68 1608.98,802.01 1612.97,802.36 C1616.96,802.71 1620.95,803.07 1624.93,803.45 C1628.91,803.84 1632.90,804.24 1636.88,804.68 C1640.86,805.11 1644.83,805.57 1648.81,806.06 C1652.79,806.54 1656.76,807.06 1660.73,807.60 C1664.70,808.13 1668.67,808.69 1672.64,809.26 C1676.61,809.83 1680.57,810.42 1684.54,811.02 C1688.50,811.61 1692.47,812.22 1696.43,812.83 C1700.40,813.43 1704.36,814.05 1708.33,814.66 C1712.29,815.26 1716.26,815.87 1720.22,816.47 C1724.19,817.07 1728.15,817.66 1732.12,818.23 C1736.09,818.80 1740.06,819.36 1744.03,819.90 C1748.00,820.44 1751.97,820.96 1755.94,821.47 C1759.92,821.98 1763.89,822.47 1767.87,822.95 C1771.84,823.44 1775.82,823.91 1779.80,824.37 C1783.78,824.84 1787.76,825.30 1791.73,825.76 C1795.71,826.22 1799.69,826.67 1803.67,827.13 C1807.65,827.59 1811.63,828.04 1815.62,828.51 C1819.60,828.98 1823.58,829.44 1827.56,829.93 C1831.54,830.41 1837.51,831.15 1839.50,831.40" stroke="#ff0000" stroke-width="10.5"/>
</g>
<path class="c" d="M1255.20,1000.00 C1256.22,994.53 1258.52,976.37 1261.30,967.20 C1264.08,958.03 1268.48,951.82 1271.90,945.00 C1275.32,938.18 1277.12,933.13 1281.80,926.30 C1286.48,919.47 1293.87,910.82 1300.00,904.00 C1306.13,897.18 1310.05,892.82 1318.60,885.40 C1327.15,877.98 1340.67,867.32 1351.30,859.50 C1361.93,851.68 1372.17,845.08 1382.40,838.50 C1392.63,831.92 1402.10,826.17 1412.70,820.00 C1423.30,813.83 1435.10,807.30 1446.00,801.50 C1456.90,795.70 1463.68,791.95 1478.10,785.20 C1492.52,778.45 1514.77,768.50 1532.50,761.00 C1550.23,753.50 1569.08,745.28 1584.50,740.20 C1599.92,735.12 1610.70,733.23 1625.00,730.50 C1639.30,727.77 1652.58,726.47 1670.30,723.80 C1688.02,721.13 1710.77,717.27 1731.30,714.50 C1751.83,711.73 1774.55,709.32 1793.50,707.20 C1812.45,705.08 1828.72,703.45 1845.00,701.80 C1861.28,700.15 1883.50,698.05 1891.20,697.30" stroke="#45a83a" stroke-width="1.8"/>
<path class="c" d="M1255.20,1000.00 C1255.21,1002.10 1255.06,1014.20 1255.30,1018.00 C1255.54,1021.80 1256.32,1028.75 1257.30,1032.60 C1258.28,1036.45 1261.80,1046.46 1263.70,1051.00 C1265.60,1055.54 1269.37,1066.37 1273.60,1071.50 C1277.83,1076.63 1291.17,1087.85 1300.00,1095.00 C1308.83,1102.15 1335.30,1125.57 1349.30,1132.80 C1363.30,1140.03 1397.81,1150.08 1420.00,1157.00 C1442.19,1163.92 1513.25,1186.27 1539.50,1192.10 C1565.75,1197.93 1621.03,1203.63 1645.00,1207.00 C1668.97,1210.37 1715.57,1216.92 1745.00,1221.00 C1774.43,1225.08 1879.53,1239.55 1897.30,1242.00" stroke="#45a83a" stroke-width="1.8"/>
<g id="axes" stroke="#000" fill="none">
<line x1="198.9" y1="24" x2="198.9" y2="1394.4" stroke-width="7.8"/>
<line x1="195" y1="1390.4" x2="1921.7" y2="1390.4" stroke-width="8"/>
<line x1="199" y1="351.5" x2="236.25" y2="351.5" stroke-width="7.6"/>
<line x1="199" y1="590.75" x2="236.25" y2="590.75" stroke-width="7.6"/>
<line x1="199" y1="829.5" x2="236.25" y2="829.5" stroke-width="7.6"/>
<line x1="199" y1="1068.4" x2="236.25" y2="1068.4" stroke-width="7.6"/>
<line x1="513.2" y1="1332.3" x2="513.2" y2="1390" stroke-width="7.9"/>
<line x1="982.9" y1="1332.3" x2="982.9" y2="1390" stroke-width="7.9"/>
<line x1="1453" y1="1332.3" x2="1453" y2="1390" stroke-width="7.9"/>
<line x1="1917.75" y1="1332.3" x2="1917.75" y2="1390" stroke-width="7.9"/>
</g>
<g id="arrows" stroke="#000" stroke-width="6" fill="#000">
<line x1="222" y1="174.4" x2="490.5" y2="174.4"/><polygon stroke="none" points="202,174.4 225.75,161.4 225.75,187.4"/><polygon stroke="none" points="510.5,174.4 486.75,161.4 486.75,187.4"/>
<line x1="536.5" y1="174.4" x2="960" y2="174.4"/><polygon stroke="none" points="516.5,174.4 540.25,161.4 540.25,187.4"/><polygon stroke="none" points="980,174.4 956.25,161.4 956.25,187.4"/>
<line x1="1006" y1="174.4" x2="1446.75" y2="174.4"/><polygon stroke="none" points="986,174.4 1009.75,161.4 1009.75,187.4"/>
</g>
<g id="rebar">
<polygon points="1399.7,248.5 1433.9,248.1 1444.9,273.2 1481.1,292.3 1507.2,314.4 1525.3,338.5 1533.3,362.6 1537.3,365.6 1562.5,377.7 1562.5,422.9 1541.4,435.9 1529.3,467.1 1515.2,489.2 1491.1,515.3 1471,531.4 1448.9,539.4 1438.75,561.25 1396.25,561.25 1384.7,539.4 1350.5,527.3 1324.4,499.2 1306.3,471.1 1292.2,436.9 1268.1,422.9 1268.1,376.7 1294.2,368.6 1300.3,350.5 1310.3,326.4 1330.4,304.3 1360.5,284.2 1389.7,271.2" fill="#bcc2c4" filter="url(#noise)"/>
<circle cx="1415.8" cy="406.6" r="102" fill="#ff7c80"/>
<polygon points="1399.7,248.5 1433.9,248.1 1444.9,273.2 1481.1,292.3 1507.2,314.4 1525.3,338.5 1533.3,362.6 1537.3,365.6 1562.5,377.7 1562.5,422.9 1541.4,435.9 1529.3,467.1 1515.2,489.2 1491.1,515.3 1471,531.4 1448.9,539.4 1438.75,561.25 1396.25,561.25 1384.7,539.4 1350.5,527.3 1324.4,499.2 1306.3,471.1 1292.2,436.9 1268.1,422.9 1268.1,376.7 1294.2,368.6 1300.3,350.5 1310.3,326.4 1330.4,304.3 1360.5,284.2 1389.7,271.2" fill="none" stroke="#000" stroke-width="7" stroke-linejoin="miter"/>
</g>
<g id="leaders" stroke="#000" stroke-width="4.9" fill="#000">
<line x1="1265.5" y1="410.3" x2="1161.1" y2="874.6"/>
<circle stroke="none" cx="1265.5" cy="410.3" r="13"/><circle stroke="none" cx="1161.1" cy="874.6" r="13.1"/>
<line x1="1344.5" y1="475.1" x2="1236.2" y2="818"/>
<circle stroke="none" cx="1344.5" cy="475.1" r="13"/><circle stroke="none" cx="1236.2" cy="818" r="13.1"/>
<line x1="1411.2" y1="410.2" x2="1371.5" y2="784.9"/>
<circle stroke="none" cx="1411.2" cy="410.2" r="13"/><circle stroke="none" cx="1371.5" cy="784.9" r="13.1"/>
</g>
<g id="label_arrows" stroke="#000" stroke-width="4.9" fill="#000">
<line x1="1544.4" y1="294.3" x2="1458.2" y2="361.1"/><polygon stroke="none" points="1436.9,377.7 1450.26,350.878 1466.2,371.421"/>
<line x1="1628.7" y1="452" x2="1552.7" y2="409.4"/><polygon stroke="none" points="1528.3,395.7 1558.35,399.364 1547.1,419.426"/>
</g>
<g id="labels">
<text id="t_degc" font-size="69" transform="scale(0.93,1)"><tspan x="48.2" y="92.7">(</tspan><tspan x="72.3" y="88.5" font-size="62">°</tspan><tspan x="94.5" y="94.2" font-size="70.5">C</tspan><tspan x="149" y="92.7">)</tspan></text>
<text id="t_roll" transform="translate(229.85,117.00) scale(1.0038,1)" font-size="77.5">Rolling</text>
<text id="t_temp" transform="translate(578.38,117.00) scale(0.9903,1)" font-size="77.5" font-weight="bold">Tempcore</text>
<text id="t_cool" transform="translate(1030.06,117.00) scale(0.9978,1)" font-size="77.5">Cooling</text>
<text id="t_1000" transform="translate(11.45,373.20) scale(0.9900,1)" font-size="70.5">1000</text>
<text id="t_800" transform="translate(38.92,616.80) scale(0.9883,1)" font-size="70.5">800</text>
<text id="t_600" transform="translate(38.43,850.50) scale(0.9926,1)" font-size="70.5">600</text>
<text id="t_400" transform="translate(38.88,1093.00) scale(0.9948,1)" font-size="70.5">400</text>
<text id="t_x0" transform="translate(178.38,1484.30) scale(1.0395,1)" font-size="70.5">0</text>
<text id="t_x01" transform="translate(457.30,1484.30) scale(0.9900,1)" font-size="70.5">0.1</text>
<text id="t_x1" transform="translate(957.70,1484.30) scale(0.9900,1)" font-size="70.5">1</text>
<text id="t_x10" transform="translate(1412.30,1484.30) scale(0.9900,1)" font-size="70.5">10</text>
<text id="t_x100" transform="translate(1854.30,1484.30) scale(0.9900,1)" font-size="70.5">100</text>
<text id="t_time" transform="translate(1720.15,1570.00) scale(0.9911,1)" font-size="71.5">Time (s)</text>
<text id="t_ms" transform="translate(390.58,1046.30) scale(1.0070,1)" font-size="77.5" style="fill:#00b050">Ms</text>
<text id="t_cct" transform="translate(1517.26,970.75) scale(1.0049,1)" font-size="62.5">CCT diagram</text>
<text id="t_fp" transform="translate(1547.10,303.25) scale(1.0011,1)" font-size="62.5">Ferrite-Pearlite</text>
<text id="t_tm1" transform="translate(1645.30,487.50) scale(1.0210,1)" font-size="62.5">Tempered</text>
<text id="t_tm2" transform="translate(1640.87,562.50) scale(0.9979,1)" font-size="62.5">Martensite</text>
</g>
</svg>
</body></html>
